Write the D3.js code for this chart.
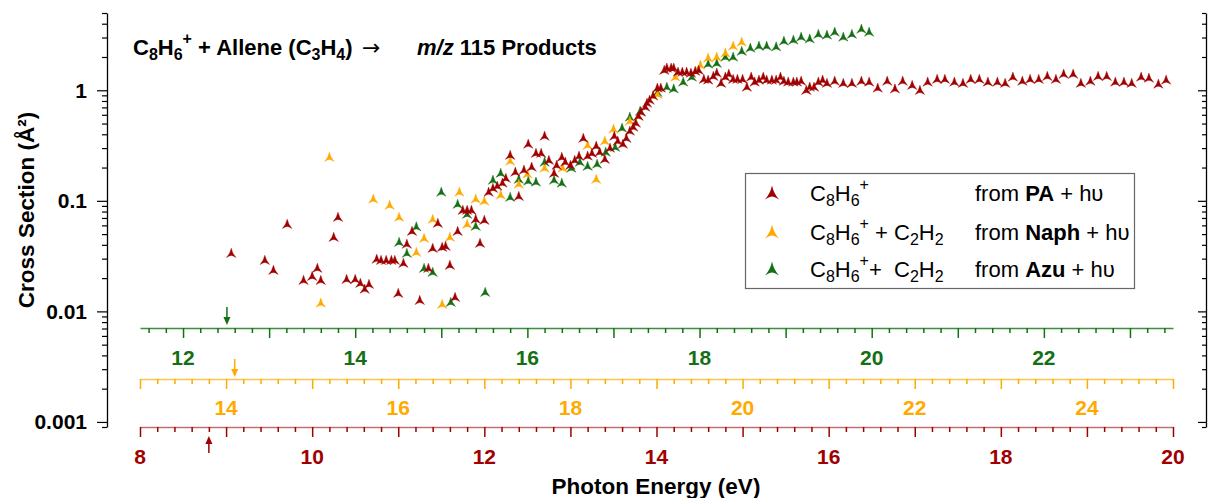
<!DOCTYPE html>
<html><head><meta charset="utf-8">
<script src="https://cdn.jsdelivr.net/npm/d3@7"></script>
<style>
body{margin:0;background:#fff;}
svg text{font-family:"Liberation Sans",Arial,sans-serif;white-space:pre;}
</style></head><body>
<svg id="chart" width="1210" height="498"></svg>
<script>
// ---------- DATA ----------
const paEnergy = [
 9.06,9.45,9.55,9.71,9.90,10.00,10.06,10.10,10.25,10.30,
 10.40,10.50,10.56,10.61,10.66,10.75,10.80,10.86,10.92,10.96,
 11.00,11.06,11.10,11.16,11.25,11.35,11.40,11.46,11.51,11.55,
 11.60,11.66,11.69,11.75,11.80,11.85,11.90,11.95,12.00,12.05,
 12.10,12.15,12.21,12.25,12.30,12.36,12.40,12.46,12.51,12.55,
 12.60,12.66,12.70,12.75,12.81,12.84,12.90,12.94,13.00,13.05,
 13.10,13.15,13.20,13.25,13.30,13.34,13.40,13.46,13.51,13.55,
 13.61,13.65,13.69,13.73,13.76,13.79,13.82,13.87,13.89,13.92,
 13.96,14.01,14.05,14.09,14.12,14.17,14.20,14.25,14.30,14.35,
 14.40,14.45,14.49,14.55,14.60,14.66,14.70,14.75,14.80,14.84,
 14.89,14.94,15.00,15.05,15.10,15.14,15.19,15.24,15.28,15.34,
 15.39,15.44,15.48,15.53,15.59,15.63,15.68,15.74,15.78,15.83,
 15.88,15.93,15.98,16.07,16.17,16.27,16.38,16.47,16.57,16.68,
 16.77,16.86,16.97,17.06,17.15,17.26,17.35,17.46,17.56,17.65,
 17.75,17.85,17.96,18.05,18.14,18.25,18.34,18.44,18.54,18.64,
 18.73,18.84,18.93,19.04,19.13,19.23,19.33,19.43,19.52,19.63,
 19.72,19.83,19.92];
const paCross = [
 0.0336,0.0290,0.0236,0.0615,0.0191,0.0208,0.0246,0.0191,0.0469,0.0712,
 0.0195,0.0195,0.0180,0.0159,0.0176,0.0297,0.0290,0.0290,0.0290,0.0290,
 0.0146,0.0273,0.0406,0.0531,0.0126,0.0246,0.0373,0.0628,0.0381,0.0389,
 0.0262,0.0134,0.0531,0.0824,0.0824,0.0824,0.0683,0.0414,0.0669,0.120,
 0.130,0.136,0.145,0.160,0.259,0.182,0.110,0.190,0.326,0.202,
 0.270,0.270,0.385,0.233,0.178,0.210,0.248,0.224,0.210,0.233,
 0.254,0.369,0.255,0.270,0.313,0.276,0.238,0.300,0.385,0.347,
 0.326,0.369,0.428,0.465,0.505,0.584,0.635,0.705,0.766,0.815,
 0.89,1.05,1.05,1.52,1.59,1.59,1.59,1.46,1.46,1.46,
 1.43,1.49,1.52,1.26,1.24,1.34,1.43,1.16,1.32,1.40,
 1.26,1.26,1.26,1.07,1.32,1.19,1.24,1.32,1.24,1.24,
 1.24,1.32,1.21,1.19,1.19,1.19,1.21,1.00,1.07,1.07,
 1.19,1.24,1.16,1.21,1.16,1.16,1.21,1.19,1.05,1.21,
 1.03,1.21,1.11,1.00,1.19,1.26,1.26,1.19,1.16,1.26,
 1.26,1.19,1.19,1.16,1.32,1.21,1.26,1.26,1.34,1.26,
 1.40,1.40,1.16,1.21,1.34,1.34,1.19,1.19,1.16,1.32,
 1.29,1.14,1.24];

const naphEnergy = [
 15.10,15.20,15.71,15.90,16.01,16.21,16.30,16.40,16.51,16.60,
 16.71,16.80,16.90,17.00,17.19,17.30,17.40,17.50,17.70,17.91,
 18.20,18.30,18.40,18.50,18.69,18.79,19.01,19.22,19.51,19.60,
 19.70,19.80,19.89,19.99];
const naphCross = [
 0.0119,0.248,0.104,0.0914,0.0712,0.0343,0.0459,0.0683,0.0116,0.0469,
 0.120,0.0615,0.104,0.0994,0.113,0.229,0.142,0.175,0.198,0.198,
 0.319,0.157,0.347,0.446,0.526,0.584,0.92,1.32,1.69,1.96,
 2.00,2.17,2.51,2.73];

const azuEnergy = [
 14.51,14.60,14.71,14.80,14.90,15.00,15.11,15.19,15.30,15.40,
 15.51,15.60,15.69,15.80,15.90,16.01,16.10,16.20,16.31,16.40,
 16.51,16.61,16.70,16.81,16.91,17.02,17.10,17.19,17.31,17.51,
 17.62,17.70,17.81,17.91,18.10,18.20,18.30,18.39,18.49,18.59,
 18.69,18.78,18.89,18.98,19.09,19.18,19.28,19.38,19.48,19.57,
 19.67,19.77,19.88,19.97];
const azuCross = [
 0.0423,0.0336,0.0584,0.0246,0.0226,0.120,0.0121,0.0933,0.0758,0.0590,
 0.0149,0.154,0.178,0.108,0.157,0.151,0.148,0.224,0.154,0.145,
 0.198,0.224,0.206,0.215,0.276,0.306,0.455,0.573,0.648,0.96,
 1.07,1.03,1.19,1.32,1.73,1.76,2.00,2.00,2.26,2.41,
 2.51,2.51,2.48,2.79,2.85,3.03,2.92,3.22,3.16,3.36,
 3.03,3.22,3.58,3.36];

// x-axis domains (eV) for each precursor scale
const paDomain = [8, 20];
const naphDomain = [13, 25];
const azuDomain = [11.5, 23.5];
// threshold arrows (eV) on each scale
const paArrow = [8.80];
const naphArrow = [14.10];
const azuArrow = [12.51];
// y-axis
const yDomain = [0.0009, 5];
const yMajorTicks = [0.001, 0.01, 0.1, 1];
const yTickLabels = ["0.001", "0.01", "0.1", "1"];

// ---------- DRAW ----------
const C_RED = "#a00000", C_ORA = "#ffaa00", C_GRN = "#157015";
const svg = d3.select("#chart");
const X0 = 140, X1 = 1173;
const xPA = d3.scaleLinear().domain(paDomain).range([X0, X1]);
const xNA = d3.scaleLinear().domain(naphDomain).range([X0, X1]);
const xAZ = d3.scaleLinear().domain(azuDomain).range([X0, X1]);
const y = d3.scaleLog().domain(yDomain).range([427, 13]);

// y ticks (all minor + major)
const yTicks = [];
for (let e = -4; e <= 0; e++) for (let m = 1; m <= 9; m++) {
  const v = m * Math.pow(10, e);
  if (v >= yDomain[0] * 0.999 && v <= yDomain[1] * 1.001) yTicks.push(+v.toPrecision(3));
}
const isMajorY = v => yMajorTicks.some(t => Math.abs(t - v) / t < 1e-6);

// left axis
const gL = svg.append("g").attr("transform", "translate(107,0)")
  .call(d3.axisLeft(y).tickValues(yTicks).tickSizeOuter(0).tickFormat(""));
gL.select(".domain").attr("stroke", "#000").attr("stroke-width", 1.3);
gL.selectAll(".tick line").attr("stroke", "#000").attr("stroke-width", 1.2)
  .attr("x2", d => isMajorY(d) ? -10 : -5);
yMajorTicks.forEach((v, i) => {
  svg.append("text").attr("x", 87).attr("y", y(v)).attr("dy", "0.35em")
    .attr("text-anchor", "end").attr("font-size", 21).attr("font-weight", "bold")
    .text(yTickLabels[i]);
});
// right axis (frame)
const gR = svg.append("g").attr("transform", "translate(1206,0)")
  .call(d3.axisRight(y).tickValues(yTicks).tickSizeOuter(0).tickFormat(""));
gR.select(".domain").attr("stroke", "#000").attr("stroke-width", 1.3);
gR.selectAll(".tick line").attr("stroke", "#000").attr("stroke-width", 1.2)
  .attr("x2", d => isMajorY(d) ? -8 : -4);

// colored bottom axes
function colorAxis(scale, yPos, tickStart, tickEnd, labelStep, color, lineColor, labelOffset) {
  const vals = d3.range(Math.round(tickStart * 5), Math.round(tickEnd * 5) + 1).map(k => k / 5);
  const g = svg.append("g").attr("transform", `translate(0,${yPos})`)
    .call(d3.axisBottom(scale).tickValues(vals).tickSizeOuter(0).tickFormat(""));
  g.select(".domain").attr("stroke", lineColor).attr("stroke-width", 1.5);
  g.selectAll(".tick line").attr("stroke", color).attr("stroke-width", 1.5)
    .attr("y2", d => Math.abs(d - Math.round(d)) < 1e-6 ? 10 : 5);
  vals.filter(d => Math.abs(d - Math.round(d)) < 1e-6 && Math.round(d) % labelStep === 0)
    .forEach(d => {
      g.append("text").attr("x", scale(d)).attr("y", labelOffset).attr("dy", "0.35em")
        .attr("text-anchor", "middle").attr("font-size", 21).attr("font-weight", "bold")
        .attr("fill", color).text(d3.format("d")(d));
    });
}
colorAxis(xAZ, 328, 11.6, 23.4, 2, C_GRN, "#3e8e3e", 30);
colorAxis(xNA, 379, 13, 25, 2, C_ORA, "#ffc24a", 29);
colorAxis(xPA, 427, 8, 20, 2, C_RED, "#c07070", 30);

// threshold arrows
function arrow(xv, yTail, yHead, color) {
  const dir = yHead > yTail ? 1 : -1;
  svg.append("line").attr("x1", xv).attr("x2", xv).attr("y1", yTail).attr("y2", yHead - dir * 5)
    .attr("stroke", color).attr("stroke-width", 1.5);
  svg.append("path")
    .attr("d", `M${xv},${yHead} L${xv - 3.5},${yHead - dir * 8} L${xv + 3.5},${yHead - dir * 8} Z`)
    .attr("fill", color);
}
azuArrow.forEach(v => arrow(xAZ(v), 307, 325, C_GRN));
naphArrow.forEach(v => arrow(xNA(v), 359, 377, C_ORA));
paArrow.forEach(v => arrow(xPA(v), 453, 436, C_RED));

// marker shape
function tri(s) {
  return `M0,${-s} Q${0.25 * s},${0.15 * s} ${0.95 * s},${0.85 * s} Q${0.3 * s},${0.45 * s} 0,${0.45 * s} ` +
         `Q${-0.3 * s},${0.45 * s} ${-0.95 * s},${0.85 * s} Q${-0.25 * s},${0.15 * s} 0,${-s} Z`;
}
function series(xs, ys, scale, color) {
  const pts = xs.map((e, i) => [e, ys[i]]).filter(d => d[1] !== undefined);
  svg.append("g").selectAll("path").data(pts).join("path")
    .attr("d", tri(5))
    .attr("transform", d => `translate(${scale(d[0])},${y(d[1])})`)
    .attr("fill", color).attr("stroke", color).attr("stroke-width", 0.4);
}
series(azuEnergy, azuCross, xAZ, C_GRN);
series(naphEnergy, naphCross, xNA, C_ORA);
series(paEnergy, paCross, xPA, C_RED);

// rich text helper
function rich(x, yb, parts, size, weight) {
  const t = svg.append("text").attr("x", x).attr("y", yb).attr("font-size", size)
    .attr("font-weight", weight || "normal");
  let shift = 0;
  parts.forEach(p => {
    const target = p.sub ? Math.round(size * 0.24) : p.sup ? -Math.round(size * 0.48) : 0;
    const ts = t.append("tspan").attr("dy", target - shift).text(p.t);
    if (p.sub || p.sup) ts.attr("font-size", Math.round(size * 0.72));
    if (p.b) ts.attr("font-weight", "bold");
    if (p.i) ts.attr("font-style", "italic");
    if (p.f) ts.attr("font-family", p.f).attr("font-weight", "normal");
    if (p.x !== undefined) ts.attr("x", p.x);
    shift = target;
  });
  return t;
}

// title
rich(133, 55, [
  {t: "C"}, {t: "8", sub: 1}, {t: "H"}, {t: "6", sub: 1}, {t: "+", sup: 1},
  {t: " + Allene (C"}, {t: "3", sub: 1}, {t: "H"}, {t: "4", sub: 1}, {t: ")"},
  {t: "\u2192", x: 362, f: "DejaVu Sans"},
  {t: "m/z", i: 1, x: 417}, {t: " 115 Products"}
], 22, "bold");

// axis titles
svg.append("text").attr("transform", "translate(34,210) rotate(-90)")
  .attr("text-anchor", "middle").attr("font-size", 22.5).attr("font-weight", "bold")
  .text("Cross Section (\u00C5\u00B2)");
svg.append("text").attr("x", 656).attr("y", 494).attr("text-anchor", "middle")
  .attr("font-size", 22.5).attr("font-weight", "bold").text("Photon Energy (eV)");

// legend
svg.append("rect").attr("x", 745.5).attr("y", 173.5).attr("width", 389).attr("height", 115)
  .attr("fill", "#fff").attr("stroke", "#666").attr("stroke-width", 1.2);
const legendRows = [
  {color: C_RED, yb: 201, formula: [{t: "C"}, {t: "8", sub: 1}, {t: "H"}, {t: "6", sub: 1}, {t: "+", sup: 1}], src: "PA"},
  {color: C_ORA, yb: 240, formula: [{t: "C"}, {t: "8", sub: 1}, {t: "H"}, {t: "6", sub: 1}, {t: "+", sup: 1}, {t: " + C"}, {t: "2", sub: 1}, {t: "H"}, {t: "2", sub: 1}], src: "Naph"},
  {color: C_GRN, yb: 277, formula: [{t: "C"}, {t: "8", sub: 1}, {t: "H"}, {t: "6", sub: 1}, {t: "+", sup: 1}, {t: "+  C"}, {t: "2", sub: 1}, {t: "H"}, {t: "2", sub: 1}], src: "Azu"}
];
legendRows.forEach(r => {
  svg.append("path").attr("d", tri(7.5)).attr("transform", `translate(772,${r.yb - 8})`)
    .attr("fill", r.color);
  rich(810, r.yb, r.formula, 22, "normal");
  rich(975, r.yb, [{t: "from "}, {t: r.src, b: 1}, {t: " + h\u03C5"}], 22, "normal");
});
</script>
</body></html>
